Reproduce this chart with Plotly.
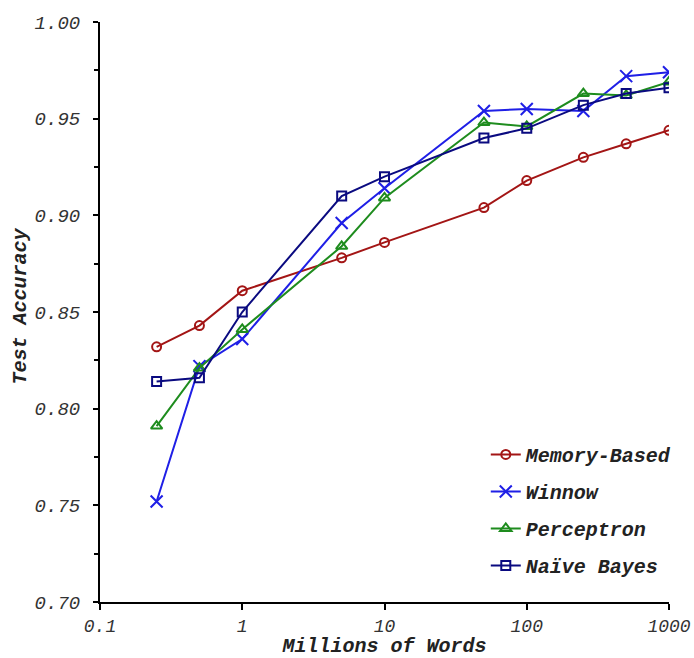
import plotly.graph_objects as go

words_millions = [0.25, 0.5, 1, 5, 10, 50, 100, 250, 500, 1000]
memory_based = [0.832, 0.843, 0.861, 0.878, 0.886, 0.904, 0.918, 0.930, 0.937, 0.944]
winnow = [0.752, 0.822, 0.836, 0.896, 0.914, 0.954, 0.955, 0.954, 0.972, 0.974]
perceptron = [0.791, 0.821, 0.841, 0.884, 0.909, 0.948, 0.946, 0.963, 0.962, 0.969]
naive_bayes = [0.814, 0.816, 0.850, 0.910, 0.920, 0.940, 0.945, 0.957, 0.963, 0.966]

x_tick_vals = [0.1, 1, 10, 100, 1000]
x_tick_text = ["0.1", "1", "10", "100", "1000"]
y_tick_vals = [0.70, 0.75, 0.80, 0.85, 0.90, 0.95, 1.00]

FONT = "Liberation Mono, Courier New, monospace"

series = [
    ("Memory-Based", memory_based, "#a31515", "circle-open", 9),
    ("Winnow", winnow, "#1f1fe6", "x-thin-open", 12),
    ("Perceptron", perceptron, "#1e8c1e", "triangle-up-open", 10),
    ("Naïve Bayes", naive_bayes, "#0a0a80", "square-open", 9),
]

fig = go.Figure()
for i, (name, vals, color, sym, size) in enumerate(series):
    fig.add_trace(go.Scatter(
        x=words_millions, y=vals, name=name, mode="lines+markers",
        line=dict(color=color, width=2),
        marker=dict(symbol=sym, size=size, color=color, line=dict(color=color, width=2)),
        legendgroup=f"g{i}",
    ))

fig.update_layout(
    width=694, height=658,
    margin=dict(l=100, r=25, t=22, b=56),
    paper_bgcolor="white", plot_bgcolor="white",
    font=dict(family=FONT, size=18, color="#333333", style="italic"),
    showlegend=True,
    legend=dict(
        x=0.678, y=0.288, xanchor="left", yanchor="top",
        bgcolor="rgba(255,255,255,0)",
        font=dict(family=FONT, size=20, color="#222222", style="italic", weight="bold"),
        traceorder="grouped", tracegroupgap=8,
    ),
    xaxis=dict(
        type="log", range=[-1, 3], automargin=False,
        tickvals=x_tick_vals, ticktext=x_tick_text,
        showgrid=False, zeroline=False,
        showline=True, linecolor="black", linewidth=2,
        ticks="outside", ticklen=6, tickwidth=2, tickcolor="black",
        tickfont=dict(family=FONT, size=18, color="#333333", style="italic"),
        title=dict(text="Millions of Words", standoff=6,
                   font=dict(family=FONT, size=20, color="#222222", style="italic", weight="bold")),
    ),
    yaxis=dict(
        range=[0.70, 1.00], automargin=False,
        tickvals=y_tick_vals, tickformat=".2f",
        showgrid=False, zeroline=False,
        showline=True, linecolor="black", linewidth=2,
        ticks="outside", ticklen=5, tickwidth=2, tickcolor="black",
        minor=dict(dtick=0.025, ticks="outside", ticklen=4, tickwidth=2, tickcolor="black", showgrid=False),
        tickfont=dict(family=FONT, size=19, color="#333333", style="italic"),
        ticklabelstandoff=9,
    ),
    annotations=[dict(
        text="Test Accuracy", xref="paper", yref="paper",
        x=-0.14, y=0.51, xanchor="center", yanchor="middle",
        textangle=-90, showarrow=False,
        font=dict(family=FONT, size=20, color="#222222", style="italic", weight="bold"),
    )],
)

fig.write_html("out.html", config={"displayModeBar": False},
               post_script="document.body.style.margin='0';")
